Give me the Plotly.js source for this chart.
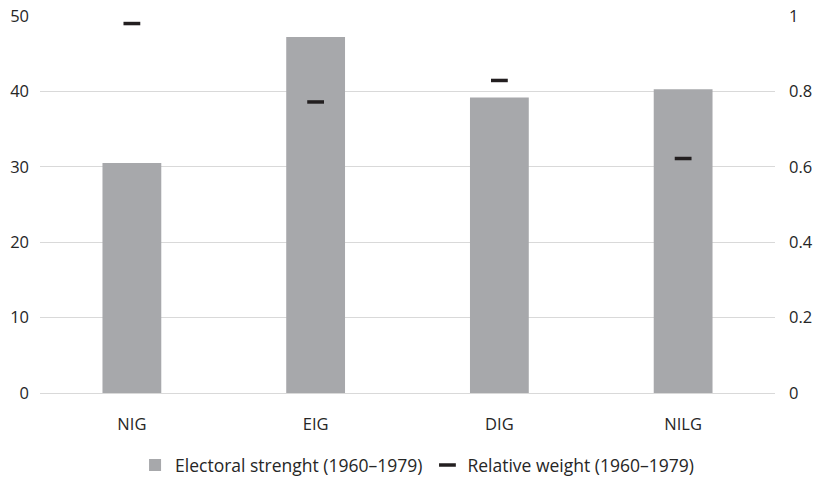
<!DOCTYPE html>
<html><head><meta charset="utf-8">
<script src="https://cdn.plot.ly/plotly-3.0.1.min.js"></script>
<style>html,body{margin:0;padding:0;background:#fff;}#chart{width:819px;height:481px;}</style>
</head><body><div id="chart"></div>
<script>
const categories = ["NIG", "EIG", "DIG", "NILG"];
const electoralStrength = [30.5, 47.2, 39.2, 40.3];
const relativeWeight = [0.98, 0.772, 0.829, 0.622];
const leftTicks = [0, 10, 20, 30, 40, 50];
const rightTicks = [0, 0.2, 0.4, 0.6, 0.8, 1];
const rightTickText = ["0", "0.2", "0.4", "0.6", "0.8", "1"];

const font = {family: "Open Sans, sans-serif", size: 16.5, color: "#262626"};

const traces = [
  {type: "bar", x: categories, y: electoralStrength, name: "Electoral strenght (1960–1979)",
   marker: {color: "#a7a8ab"}, yaxis: "y", hoverinfo: "skip"},
  {type: "scatter", mode: "markers", x: categories, y: relativeWeight, name: "Relative weight (1960–1979)",
   marker: {symbol: "line-ew", size: 12, line: {width: 3.5, color: "#231f20"}, color: "#231f20"},
   yaxis: "y2", hoverinfo: "skip"}
];

const layout = {
  width: 819, height: 481,
  margin: {l: 40, r: 44, t: 16, b: 88},
  paper_bgcolor: "#fff", plot_bgcolor: "#fff",
  font: font,
  bargap: 0.68,
  showlegend: true,
  legend: {orientation: "h", x: 0.513, xanchor: "center", xref: "paper",
           yref: "container", y: 0.033, yanchor: "middle",
           font: {family: "Open Sans, sans-serif", size: 17.5, color: "#262626"},
           itemwidth: 30, tracegroupgap: 0},
  xaxis: {type: "category", showgrid: false, showline: true, linecolor: "#d9d9d9", linewidth: 1,
          ticks: "", tickfont: font, ticklabelstandoff: 16},
  yaxis: {range: [0, 50], tickvals: leftTicks, showgrid: true, gridcolor: "#d9d9d9", gridwidth: 1,
          zeroline: false, showline: false, ticks: "", tickfont: font, ticklabelstandoff: 10},
  yaxis2: {range: [0, 1], overlaying: "y", side: "right", tickvals: rightTicks, ticktext: rightTickText,
           showgrid: false, zeroline: false, showline: false, ticks: "", tickfont: font, ticklabelstandoff: 13}
};

Plotly.newPlot("chart", traces, layout, {staticPlot: true, displayModeBar: false});
</script></body></html>
